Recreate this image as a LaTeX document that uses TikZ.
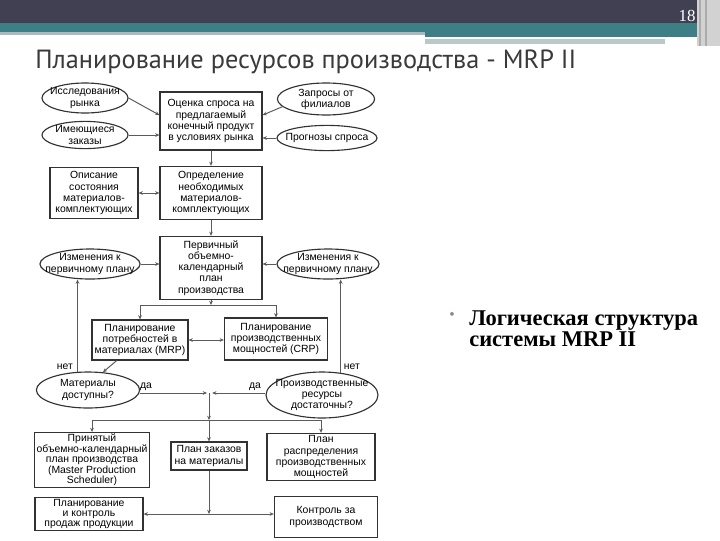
\documentclass[tikz,border=0pt]{standalone}
\usepackage{fontspec}
\setmainfont{Liberation Serif}
\newfontfamily\diagfont{Liberation Sans}
\newfontfamily\titlefont{PT Sans}
\usepackage{tikz}
\usetikzlibrary{arrows.meta,calc,shapes.geometric}
\definecolor{SlideDark}{RGB}{64,64,82}
\definecolor{SlideTeal}{RGB}{62,127,134}
\definecolor{SlideGrey}{RGB}{169,185,190}
\definecolor{SlideTitle}{RGB}{58,58,58}
\definecolor{SlideBullet}{RGB}{140,128,150}
\definecolor{DiagLine}{RGB}{50,50,50}

\begin{document}
\begin{tikzpicture}[x=0.025cm,y=-0.025cm,
    blk/.style={draw=DiagLine, line width=0.8pt, fill=white, align=center, inner xsep=0pt, inner ysep=1pt,
      font=\diagfont\fontsize{7.4}{7.9}\selectfont},
    oval/.style={blk, ellipse, inner xsep=-8pt, inner ysep=-3pt},
    arr/.style={draw=DiagLine!80, line width=0.7pt, -{Stealth[length=3pt,width=2.6pt]}},
    dbl/.style={arr, {Stealth[length=3pt,width=2.6pt]}-{Stealth[length=3pt,width=2.6pt]}},
    lbl/.style={font=\diagfont\fontsize{7.4}{8}\selectfont, inner sep=0pt}]
    \useasboundingbox[fill=white] (0,0) rectangle (720,540);
    % slide header
    \fill[SlideDark] (0,0) rectangle (697,23);
    \fill[SlideTeal] (0,23) rectangle (697,32);
    \fill[SlideGrey] (0,32) rectangle (425,35);
    \fill[SlideTeal] (425,32) rectangle (697,37);
    \fill[SlideGrey!80] (425,39) rectangle (665,44);
    \fill[gray!35] (697,0) rectangle (720,46);
    \draw[gray!65, line width=1pt] (700,0) -- (700,46) (706,0) -- (706,46);
    \node[text=white, font=\fontsize{12}{12}\selectfont, inner sep=0pt] (num) at (687,16) {18};
    \node[anchor=base west, inner sep=0pt, text=SlideTitle, font=\titlefont\fontsize{18.7}{20}\selectfont] (title) at (35,68) {Планирование ресурсов производства - MRP II};
    \node[text=SlideBullet, font=\fontsize{11}{11}\selectfont, inner sep=0pt] (dot) at (452,316) {•};
    \node[anchor=north west, inner sep=0pt, align=left, font=\bfseries\fontsize{16}{15}\selectfont] (logic) at (469,310) {Логическая структура\\системы MRP II};

    % diagram
    \node[blk, minimum width=2.55cm, minimum height=1.45cm] (ocen) at (211,121) {Оценка спроса на\\предлагаемый\\конечный продукт\\в условиях рынка};
    \node[oval, minimum width=2.15cm, minimum height=0.75cm] (isl) at (85,98) {Исследования\\рынка};
    \node[oval, minimum width=2.43cm, minimum height=0.8cm] (zapr) at (326,99) {Запросы от\\филиалов};
    \node[oval, minimum width=2.15cm, minimum height=0.68cm] (imeu) at (85,135) {Имеющиеся\\заказы};
    \node[oval, minimum width=2.5cm, minimum height=0.63cm] (progn) at (327,138) {Прогнозы спроса};
    \node[blk, minimum width=2.2cm, minimum height=1.28cm] (opis) at (94,193) {Описание\\состояния\\материалов-\\комплектующих};
    \node[blk, minimum width=2.55cm, minimum height=1.33cm] (opred) at (211,193) {Определение\\необходимых\\материалов-\\комплектующих};
    \node[blk, minimum width=2.55cm, minimum height=1.58cm] (perv) at (211,268) {Первичный\\объемно-\\календарный\\план\\производства};
    \node[oval, minimum width=2.5cm, minimum height=0.75cm] (izm1) at (90,264) {Изменения к\\первичному плану};
    \node[oval, minimum width=2.55cm, minimum height=0.75cm] (izm2) at (328,264) {Изменения к\\первичному плану};
    \node[blk, minimum width=2.4cm, minimum height=1.0cm] (mrp) at (140,340) {Планирование\\потребностей в\\материалах (MRP)};
    \node[blk, minimum width=2.58cm, minimum height=1.05cm] (crp) at (276,339) {Планирование\\производственных\\мощностей (CRP)};
    \node[oval, minimum width=2.58cm, minimum height=0.9cm] (mat) at (88,390) {Материалы\\доступны?};
    \node[oval, minimum width=2.8cm, minimum height=1.15cm] (prod) at (322,395) {Производственные\\ресурсы\\достаточны?};
    \node[blk, minimum width=2.88cm, minimum height=1.35cm, font=\diagfont\fontsize{7.4}{7.5}\selectfont] (mps) at (92,460) {Принятый\\объемно-календарный\\план производства\\(Master Production\\Scheduler)};
    \node[blk, minimum width=1.9cm, minimum height=0.7cm] (zak) at (209,456) {План заказов\\на материалы};
    \node[blk, minimum width=2.7cm, minimum height=1.18cm] (raspr) at (321,457) {План\\распределения\\производственных\\мощностей};
    \node[blk, minimum width=2.7cm, minimum height=0.8cm, font=\diagfont\fontsize{7.4}{7.2}\selectfont] (prodaj) at (89,514) {Планирование\\и контроль\\продаж продукции};
    \node[blk, minimum width=2.58cm, minimum height=1.03cm] (kontr) at (326,517) {Контроль за\\производством};

    \coordinate (sp1) at (211,305);
    \coordinate (jn) at (209,393);
    \coordinate (sp2) at (209,420);
    \coordinate (sp3) at (209,514);

    \draw[arr] (isl.east) -- ($(ocen.north west)!0.4!(ocen.south west)$);
    \draw[arr] (zapr.190) -- ($(ocen.north east)!0.4!(ocen.south east)$);
    \draw[arr] (imeu.east) -- (imeu.east -| ocen.west);
    \draw[arr] (progn.west) -- (progn.west -| ocen.east);
    \draw[arr] (ocen) -- (opred);
    \draw[dbl] (opis.east) -- (opis.east -| opred.west);
    \draw[arr] (opred) -- (perv);
    \draw[arr] (izm1.east) -- (izm1.east -| perv.west);
    \draw[arr] (izm2.west) -- (izm2.west -| perv.east);
    \draw[arr] (perv) -- (sp1);
    \draw[arr] (sp1) -| (mrp);
    \draw[arr] (sp1) -| (crp);
    \draw[dbl] (mrp.east) -- (mrp.east -| crp.west);
    \draw[arr] ($(mrp.south west)!0.26!(mrp.south east)$) -- (mat.50);
    \draw[arr] (mat.120) -- (mat.120 |- izm1.south) node[lbl, pos=0.06, left=3pt] (net1) {нет};
    \draw[arr] (prod.50) -- (prod.50 |- izm2.south) node[lbl, pos=0.06, right=2pt] (net2) {нет};
    \draw[arr] (mat.east |- jn) -- ([xshift=-0.05cm]jn);
    \draw[arr] (prod.west |- jn) -- ([xshift=0.08cm]jn);
    \node[lbl] (da1) at (146,387) {да};
    \node[lbl] (da2) at (255,387) {да};
    \draw[arr] (jn) -- (sp2);
    \draw[arr] (sp2) -| (mps);
    \draw[arr] (sp2) -| (raspr);
    \draw[arr] (sp2) -- (zak);
    \draw[arr] (zak) -- (sp3);
    \draw[arr] (sp3) -- (sp3 -| prodaj.east);
    \draw[arr] (sp3) -- (sp3 -| kontr.west);
\end{tikzpicture}
\end{document}
